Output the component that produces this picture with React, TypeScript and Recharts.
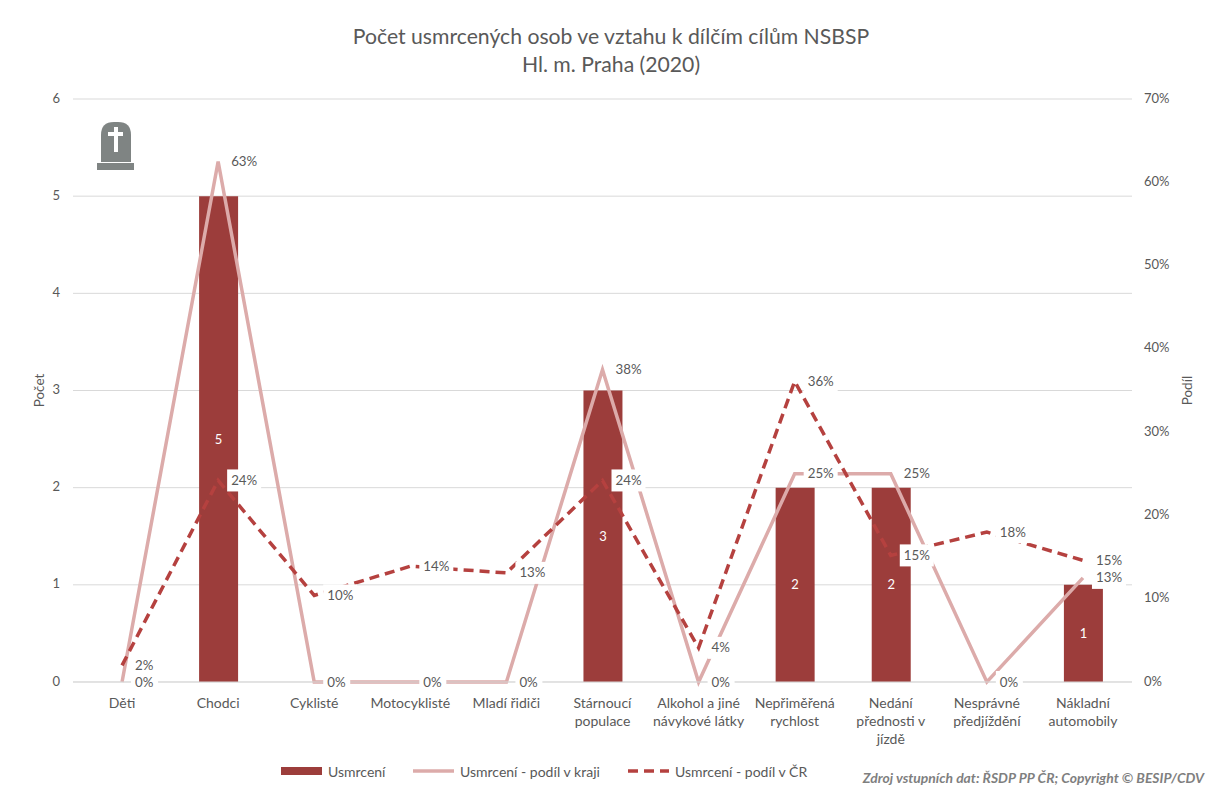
import React from 'react';
import { ComposedChart, Bar, Line, XAxis, YAxis, CartesianGrid, LabelList } from 'recharts';

const categories = [
  'Děti',
  'Chodci',
  'Cyklisté',
  'Motocyklisté',
  'Mladí řidiči',
  'Stárnoucí\npopulace',
  'Alkohol a jiné\nnávykové látky',
  'Nepřiměřená\nrychlost',
  'Nedání\npřednosti v\njízdě',
  'Nesprávné\npředjíždění',
  'Nákladní\nautomobily',
];
const deaths = [0, 5, 0, 0, 0, 3, 0, 2, 2, 0, 1];
const shareRegion = [0, 62.5, 0, 0, 0, 37.5, 0, 25, 25, 0, 12.5];
const shareCountry = [2, 24.2, 10.4, 13.9, 13.1, 24.2, 4.1, 36.1, 15.2, 18, 14.6];
const countTicks = [0, 1, 2, 3, 4, 5, 6];
const shareTicks = [0, 10, 20, 30, 40, 50, 60, 70];

const data = categories.map((name, i) => ({
  name,
  deaths: deaths[i],
  shareRegion: shareRegion[i],
  shareCountry: shareCountry[i],
}));

const FONT = 'Lato, sans-serif';
const TEXT = '#595959';
const BAR = '#9c3d3b';
const REGION = '#dcabaa';
const COUNTRY = '#b5413f';

const CategoryTick = ({ x, y, payload }: any) => (
  <text x={x} y={y + 24} textAnchor="middle" fill={TEXT} fontSize={14} fontFamily={FONT}>
    {String(payload.value).split('\n').map((line, i) => (
      <tspan key={i} x={x} dy={i === 0 ? 0 : 18}>{line}</tspan>
    ))}
  </text>
);

// data labels sit right of the point on a white box, like in Excel
const ShareLabel = ({ x, y, value }: any) => {
  const text = `${Math.round(value)}%`;
  const w = text.length === 2 ? 27 : 34;
  return (
    <g>
      <rect x={x + 9} y={y - 11} width={w} height={22} fill="#fff" />
      <text x={x + 13} y={y + 4.5} fill={TEXT} fontSize={13.3} fontFamily={FONT}>{text}</text>
    </g>
  );
};

const LegendItem = ({ left, label, swatch }: { left: number; label: string; swatch: React.ReactNode }) => (
  <div style={{ position: 'absolute', left, top: 762, height: 18, display: 'flex', alignItems: 'center', whiteSpace: 'nowrap' }}>
    <svg width={41} height={18} style={{ marginRight: 6 }}>{swatch}</svg>
    <span>{label}</span>
  </div>
);

const Gravestone = () => (
  <svg width={38} height={49} style={{ position: 'absolute', left: 97, top: 122 }}>
    <path d="M4 40 V13 Q4 0 17 0 H21 Q34 0 34 13 V40 Z" fill="#7f8483" />
    <rect x={0} y={41} width={37} height={7} fill="#7f8483" />
    <rect x={17} y={5} width={4} height={25} fill="#fff" />
    <rect x={11} y={10} width={15} height={4} fill="#fff" />
  </svg>
);

export default function App() {
  return (
    <div style={{ position: 'absolute', left: 0, top: 0, width: 1213, height: 789, background: '#fff', fontFamily: FONT, color: TEXT, fontSize: 14 }}>
      <div style={{ position: 'absolute', left: 0, width: 1222, top: 22, textAlign: 'center', fontSize: 21.2, lineHeight: '28px' }}>
        Počet usmrcených osob ve vztahu k dílčím cílům NSBSP
        <br />
        Hl. m. Praha (2020)
      </div>
      <ComposedChart
        width={1213}
        height={789}
        data={data}
        margin={{ top: 99, right: 0, bottom: 0, left: 0 }}
        style={{ position: 'absolute', left: 0, top: 0 }}
      >
        <CartesianGrid vertical={false} stroke="#d9d9d9" strokeWidth={1} yAxisId="count" />
        <XAxis
          dataKey="name"
          height={107}
          interval={0}
          padding={{ left: 1, right: 1 }}
          axisLine={{ stroke: '#d9d9d9' }}
          tickLine={false}
          tickSize={0}
          tick={<CategoryTick />}
        />
        <YAxis
          yAxisId="count"
          width={73}
          domain={[0, 6]}
          ticks={countTicks}
          axisLine={false}
          tickLine={false}
          tickSize={0}
          tickMargin={13}
          tick={{ fill: TEXT, fontSize: 13, fontFamily: FONT, dy: -1 }}
          label={{ value: 'Počet', angle: -90, position: 'center', dx: 2.5, fill: TEXT, fontSize: 13.5, fontFamily: FONT }}
        />
        <YAxis
          yAxisId="share"
          orientation="right"
          width={81}
          domain={[0, 70]}
          ticks={shareTicks}
          tickFormatter={(v) => `${v}%`}
          axisLine={false}
          tickLine={false}
          tickSize={0}
          tickMargin={12}
          tick={{ fill: TEXT, fontSize: 13, fontFamily: FONT, dy: -1 }}
          label={{ value: 'Podíl', angle: -90, position: 'center', dx: 14.5, fill: TEXT, fontSize: 13.5, fontFamily: FONT }}
        />
        <Bar yAxisId="count" dataKey="deaths" fill={BAR} barSize={39} isAnimationActive={false}>
          <LabelList
            dataKey="deaths"
            position="center"
            fill="#fff"
            fontSize={13}
            fontFamily={FONT}
            formatter={(v: any) => (v ? v : '')}
          />
        </Bar>
        <Line yAxisId="share" dataKey="shareRegion" stroke={REGION} strokeWidth={3.5} dot={false} isAnimationActive={false} />
        <Line yAxisId="share" dataKey="shareCountry" stroke={COUNTRY} strokeWidth={3.5} strokeDasharray="10 6" dot={false} isAnimationActive={false} />
        {/* label-only series so the white boxes stay above both lines */}
        <Line yAxisId="share" dataKey="shareRegion" stroke="none" dot={false} isAnimationActive={false}>
          <LabelList dataKey="shareRegion" content={<ShareLabel />} />
        </Line>
        <Line yAxisId="share" dataKey="shareCountry" stroke="none" dot={false} isAnimationActive={false}>
          <LabelList dataKey="shareCountry" content={<ShareLabel />} />
        </Line>
      </ComposedChart>
      <Gravestone />
      <LegendItem left={281} label="Usmrcení" swatch={<rect x={0} y={5} width={41} height={8} fill={BAR} />} />
      <LegendItem left={413} label="Usmrcení - podíl v kraji" swatch={<line x1={0} x2={41} y1={9} y2={9} stroke={REGION} strokeWidth={3.5} />} />
      <LegendItem left={628} label="Usmrcení - podíl v ČR" swatch={<line x1={0} x2={41} y1={9} y2={9} stroke={COUNTRY} strokeWidth={3.5} strokeDasharray="10 6" />} />
      <div style={{ position: 'absolute', right: 9, top: 769, fontWeight: 700, fontStyle: 'italic', color: '#7f7f7f', fontSize: 13.9 }}>
        Zdroj vstupních dat: ŘSDP PP ČR; Copyright © BESIP/CDV
      </div>
    </div>
  );
}
